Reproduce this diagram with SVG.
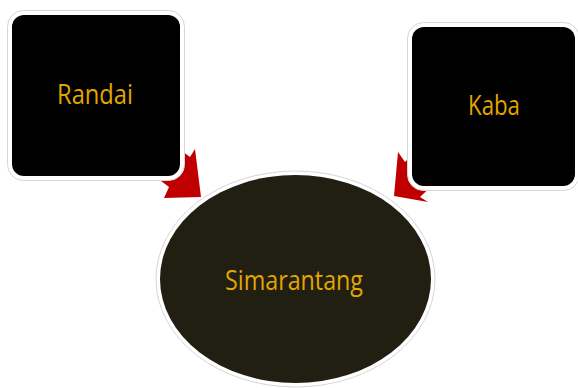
<svg xmlns="http://www.w3.org/2000/svg" width="578" height="388" viewBox="0 0 578 388">
<style>
.frame{fill:#ffffff;stroke:#d6d6d6;stroke-width:1}
.box{fill:#000000}
.lbl{font-family:"Open Sans","Noto Sans",sans-serif;font-size:27px;fill:#E2A700}
.arrow{fill:#C00000}
</style>
<rect width="578" height="388" fill="#ffffff"/>
<g id="connectors">
<polygon class="arrow" points="140,120 190,157 195,149 201,197 164,198 169,187 120,150"/>
<polygon class="arrow" points="450,120 405,162 398,152 394,196 428,202 420,197 470,150"/>
</g>
<g id="node-simarantang">
<ellipse class="frame" cx="295.5" cy="279" rx="139.5" ry="108"/>
<ellipse fill="#211E12" cx="295.5" cy="279" rx="135.5" ry="104"/>
<text class="lbl" x="294" y="290" text-anchor="middle" textLength="138" lengthAdjust="spacingAndGlyphs">Simarantang</text>
</g>
<g id="node-randai">
<rect class="frame" x="7.5" y="10.5" width="177" height="170" rx="16"/>
<rect class="box" x="12" y="15" width="168" height="161" rx="12"/>
<text class="lbl" x="95" y="104" text-anchor="middle" textLength="76" lengthAdjust="spacingAndGlyphs">Randai</text>
</g>
<g id="node-kaba">
<rect class="frame" x="407.5" y="22.5" width="172" height="168" rx="16"/>
<rect class="box" x="412" y="27" width="163" height="159" rx="12"/>
<text class="lbl" x="494" y="115" text-anchor="middle" textLength="52" lengthAdjust="spacingAndGlyphs">Kaba</text>
</g>
</svg>
